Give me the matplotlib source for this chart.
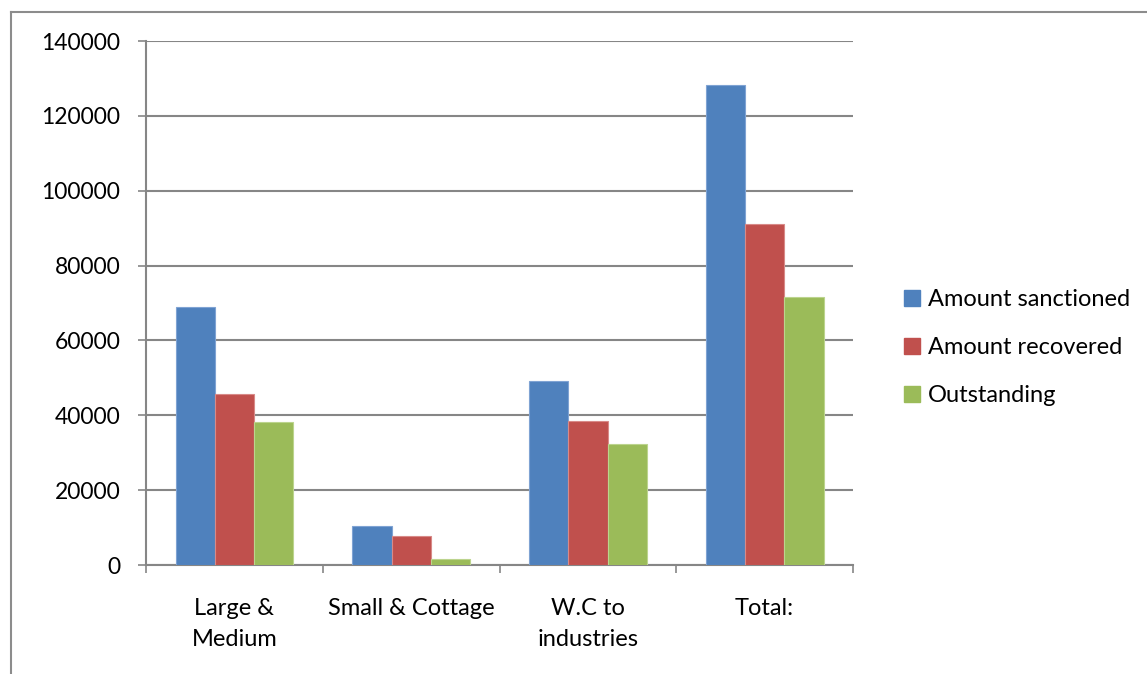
import matplotlib
matplotlib.use("Agg")
import matplotlib.pyplot as plt
from matplotlib.lines import Line2D
from matplotlib.patches import Patch
import numpy as np

categories = ["Large &\nMedium", "Small & Cottage", "W.C to\nindustries", "Total:"]
sanctioned = [68900, 10400, 49200, 128200]
recovered = [45600, 7800, 38500, 91100]
outstanding = [38100, 1600, 32400, 71500]
series_names = ["Amount sanctioned", "Amount recovered", "Outstanding"]
colors = ["#4F81BD", "#C0504D", "#9BBB59"]
edges = ["#7FA3D3", "#D88A88", "#BCD48E"]

plt.rcParams['font.family'] = ['Lato', 'DejaVu Sans']
grid_color = "#868686"

fig = plt.figure(figsize=(11.47, 6.74), dpi=100)
ax = fig.add_axes([0.1273, 0.1617, 0.6164, 0.7774])

x = np.arange(len(categories))
w = 0.222
for i, (vals, c, ec) in enumerate(zip([sanctioned, recovered, outstanding], colors, edges)):
    ax.bar(x + (i - 1) * w, vals, width=w, color=c, edgecolor=ec, linewidth=0.8, zorder=3)

ax.set_xlim(-0.5, 3.5)
ax.set_ylim(0, 140000)
ax.set_yticks(range(0, 140001, 20000))
ax.yaxis.grid(True, color=grid_color, linewidth=1.5, zorder=0)
ax.tick_params(axis='y', direction='out', length=6, width=1.2, color=grid_color,
               labelsize=16.5, pad=12.5)

# category ticks sit between the groups, labels sit under the groups
ax.set_xticks(np.arange(-0.5, 3.6, 1.0))
ax.set_xticklabels([])
ax.set_xticks(x, minor=True)
ax.set_xticklabels(categories, minor=True, fontsize=17, linespacing=1.6)
ax.tick_params(axis='x', which='major', direction='out', length=6, width=1.2, color=grid_color)
ax.tick_params(axis='x', which='minor', length=0, pad=23.5)

for s in ["top", "right"]:
    ax.spines[s].set_visible(False)
for s in ["left", "bottom"]:
    ax.spines[s].set_color(grid_color)
    ax.spines[s].set_linewidth(1.5)

handles = [Patch(facecolor=c, edgecolor=c) for c in colors]
fig.legend(handles, series_names, loc="center left", bbox_to_anchor=(0.770, 0.484),
           frameon=False, fontsize=17, handlelength=0.65, handleheight=0.65,
           handletextpad=0.35, labelspacing=1.15)

# outer chart border
bx, by = 11 / 1147, 1 - 12 / 674
fig.add_artist(Line2D([bx, bx], [0, by], color="#8C8C8C", linewidth=1.5, transform=fig.transFigure))
fig.add_artist(Line2D([bx, 1], [by, by], color="#8C8C8C", linewidth=1.5, transform=fig.transFigure))

fig.savefig("out.png", dpi=100)
